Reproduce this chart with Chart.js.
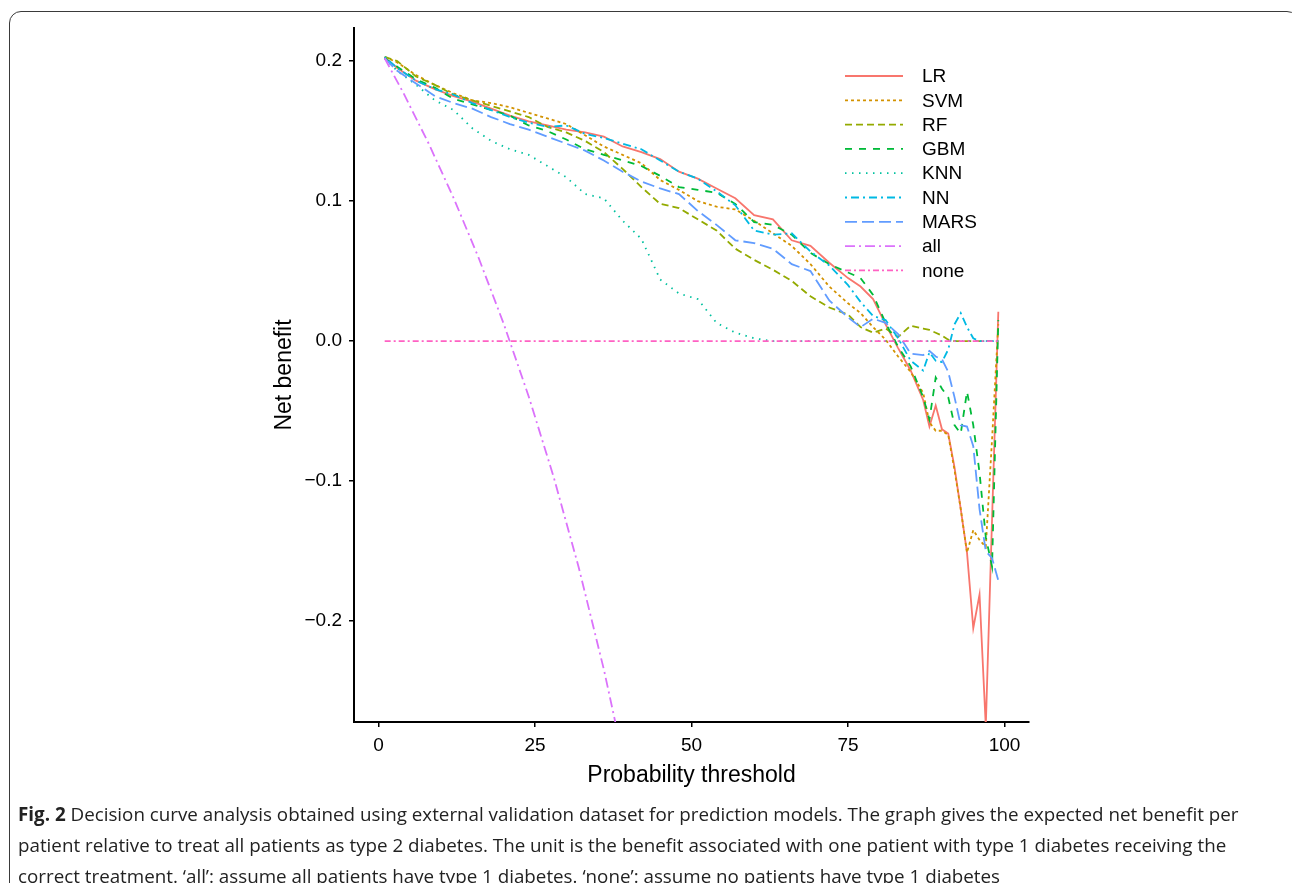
<!DOCTYPE html>
<html>
<head>
<meta charset="utf-8">
<script src="https://cdn.jsdelivr.net/npm/chart.js@4.4.1/dist/chart.umd.min.js"></script>
<style>
  html, body { margin: 0; padding: 0; background: #fff; }
  body { width: 1292px; height: 883px; position: relative; overflow: hidden; }
  #frame {
    position: absolute; left: 9px; top: 11px; width: 1290px; height: 1000px;
    border: 1.5px solid #3a3a3a; border-radius: 12px; box-sizing: border-box;
  }
  #chart { position: absolute; left: 0; top: 0; }
  #caption {
    position: absolute; left: 18px; top: 799px;
    font-family: "Open Sans", sans-serif; font-size: 18.8px; line-height: 31px;
    color: #222; white-space: nowrap; letter-spacing: 0;
  }
  #caption b { font-weight: 700; }
</style>
</head>
<body>
<div id="frame"></div>
<canvas id="chart" width="1292" height="800"></canvas>
<div id="caption">
  <b>Fig. 2</b> Decision curve analysis obtained using external validation dataset for prediction models. The graph gives the expected net benefit per<br>
  patient relative to treat all patients as type 2 diabetes. The unit is the benefit associated with one patient with type 1 diabetes receiving the<br>
  correct treatment. ‘all’: assume all patients have type 1 diabetes. ‘none’: assume no patients have type 1 diabetes
</div>
<script>
// thresholds (%) shared by the model curves
const thresholds = [1, 3, 6, 9, 12, 15, 18, 21, 24, 27, 30, 33, 36, 39, 42, 45, 48, 51, 54, 57, 60, 63, 66, 69, 72, 75,
  77, 79, 81, 83, 85, 87, 88, 89, 90, 91, 92, 93, 94, 95, 96, 97, 98, 99];

const lrValues = [0.2025, 0.195, 0.186, 0.180, 0.175, 0.171, 0.166, 0.161, 0.157, 0.154, 0.151, 0.149, 0.146, 0.139, 0.135, 0.130, 0.121, 0.116, 0.109, 0.102, 0.090, 0.087, 0.072, 0.068, 0.056, 0.045,
  0.039, 0.030, 0.012, -0.005, -0.021, -0.042, -0.061, -0.046, -0.063, -0.066, -0.090, -0.120, -0.151, -0.205, -0.181, -0.275, -0.127, 0.021];
const svmValues = [0.203, 0.199, 0.190, 0.183, 0.177, 0.172, 0.170, 0.167, 0.163, 0.159, 0.155, 0.147, 0.139, 0.133, 0.127, 0.115, 0.108, 0.100, 0.096, 0.094, 0.086, 0.077, 0.068, 0.055, 0.039, 0.027,
  0.020, 0.010, 0.001, -0.011, -0.022, -0.037, -0.058, -0.064, -0.064, -0.067, -0.092, -0.120, -0.151, -0.135, -0.142, -0.147, -0.070, 0.012];
const rfValues = [0.203, 0.200, 0.189, 0.183, 0.176, 0.172, 0.168, 0.164, 0.160, 0.153, 0.149, 0.143, 0.135, 0.123, 0.110, 0.098, 0.095, 0.087, 0.079, 0.066, 0.058, 0.051, 0.043, 0.032, 0.024, 0.019,
  0.010, 0.006, 0.009, 0.003, 0.011, 0.009, 0.008, 0.006, 0.004, 0.001, 0, 0, 0, 0, 0, 0, 0, 0];
const gbmValues = [0.202, 0.196, 0.187, 0.181, 0.173, 0.169, 0.165, 0.161, 0.154, 0.150, 0.144, 0.137, 0.133, 0.129, 0.125, 0.118, 0.110, 0.108, 0.106, 0.098, 0.085, 0.083, 0.076, 0.063, 0.055, 0.049,
  0.045, 0.033, 0.013, -0.004, -0.018, -0.040, -0.056, -0.026, -0.034, -0.040, -0.060, -0.066, -0.036, -0.060, -0.094, -0.140, -0.161, 0.015];
const knnValues = [0.202, 0.193, 0.183, 0.172, 0.165, 0.152, 0.143, 0.137, 0.133, 0.125, 0.117, 0.105, 0.102, 0.086, 0.073, 0.044, 0.034, 0.030, 0.013, 0.006, 0.002, 0, 0, 0, 0, 0,
  0, 0, 0, 0, 0, 0, 0, 0, 0, 0, 0, 0, 0, 0, 0, 0, 0, 0];
const nnValues = [0.203, 0.195, 0.186, 0.180, 0.176, 0.170, 0.165, 0.160, 0.156, 0.153, 0.154, 0.148, 0.145, 0.141, 0.137, 0.129, 0.121, 0.116, 0.107, 0.097, 0.079, 0.076, 0.077, 0.064, 0.054, 0.040,
  0.028, 0.018, 0.015, 0.002, -0.014, -0.021, -0.008, -0.014, -0.015, -0.006, 0.012, 0.020, 0.010, 0.002, 0, 0, 0, 0];
const marsValues = [0.202, 0.193, 0.184, 0.175, 0.170, 0.166, 0.160, 0.155, 0.151, 0.146, 0.141, 0.136, 0.129, 0.121, 0.114, 0.109, 0.105, 0.093, 0.083, 0.072, 0.070, 0.066, 0.055, 0.050, 0.029, 0.017,
  0.010, 0.016, 0.013, 0.005, -0.009, -0.010, -0.007, -0.011, -0.013, -0.022, -0.040, -0.060, -0.061, -0.075, -0.120, -0.150, -0.155, -0.171];

// treat-all and treat-none reference lines
const allThresholds = [1, 4, 8, 12, 16, 20, 24, 28, 32, 36, 40];
const allValues = [0.2020, 0.1771, 0.1413, 0.1023, 0.0595, 0.0125, -0.0395, -0.0972, -0.1618, -0.2344, -0.3167];
const noneThresholds = [1, 99];
const noneValues = [0, 0];

const xTicks = [0, 25, 50, 75, 100];
const yTicks = [-0.2, -0.1, 0, 0.1, 0.2];

const seriesNames = ['LR', 'SVM', 'RF', 'GBM', 'KNN', 'NN', 'MARS', 'all', 'none'];
const seriesColors = ['#F8766D', '#D39200', '#93AA00', '#00BA38', '#00C19F', '#00B9E3', '#619CFF', '#DB72FB', '#FF61C3'];
const seriesDash = [[], [3, 3], [7, 4], [7, 7], [1.5, 5.5], [2, 4, 8, 4], [12, 5], [10, 4, 2, 4], [6, 3, 2, 3]];

const xs = [thresholds, thresholds, thresholds, thresholds, thresholds, thresholds, thresholds, allThresholds, noneThresholds];
const ys = [lrValues, svmValues, rfValues, gbmValues, knnValues, nnValues, marsValues, allValues, noneValues];

const datasets = seriesNames.map((name, i) => ({
    label: name,
    data: xs[i].map((x, j) => ({ x: x, y: ys[i][j] })),
    borderColor: seriesColors[i],
    borderDash: seriesDash[i],
    borderWidth: 1.8,
    pointRadius: 0,
    tension: 0,
    fill: false,
    order: seriesNames.length - i
}));

// legend drawn inside the plot, top right, like ggplot's
const insideLegend = {
    id: 'insideLegend',
    afterDatasetsDraw(chart) {
        const { ctx, chartArea } = chart;
        const x0 = chartArea.left + 491, x1 = chartArea.left + 549, tx = chartArea.left + 568;
        ctx.save();
        ctx.font = '19px "Liberation Sans", Arial, sans-serif';
        ctx.textBaseline = 'middle';
        seriesNames.forEach((name, i) => {
            const y = chartArea.top + 48 + i * 24.3;
            ctx.strokeStyle = seriesColors[i];
            ctx.lineWidth = 1.8;
            ctx.setLineDash(seriesDash[i]);
            ctx.beginPath();
            ctx.moveTo(x0, y);
            ctx.lineTo(x1, y);
            ctx.stroke();
            ctx.setLineDash([]);
            ctx.fillStyle = '#000';
            ctx.fillText(name, tx, y + 1);
        });
        ctx.restore();
    }
};

const tickFont = { family: '"Liberation Sans", Arial, sans-serif', size: 19 };
const titleFont = { family: '"Liberation Sans", Arial, sans-serif', size: 23 };

new Chart(document.getElementById('chart'), {
    type: 'line',
    data: { datasets: datasets },
    options: {
        responsive: false,
        animation: false,
        layout: { padding: { left: 271, right: 263, top: 28, bottom: 11 } },
        plugins: { legend: { display: false }, tooltip: { enabled: false } },
        scales: {
            x: {
                type: 'linear',
                min: -3.9, max: 103.9,
                afterBuildTicks: (s) => { s.ticks = xTicks.map(v => ({ value: v })); },
                afterFit: (s) => { s.height = 67; },
                grid: { drawOnChartArea: false, drawTicks: true, tickLength: 5, color: '#000', lineWidth: 1.5 },
                border: { display: true, color: '#000', width: 2 },
                ticks: { color: '#000', font: tickFont, padding: 7, maxRotation: 0 },
                title: { display: true, text: 'Probability threshold', color: '#000', font: titleFont, padding: 0 }
            },
            y: {
                type: 'linear',
                min: -0.272, max: 0.2236,
                afterBuildTicks: (s) => { s.ticks = yTicks.map(v => ({ value: v })); },
                afterFit: (s) => { s.width = 83; },
                grid: { drawOnChartArea: false, drawTicks: true, tickLength: 5, color: '#000', lineWidth: 1.5 },
                border: { display: true, color: '#000', width: 2 },
                ticks: {
                    color: '#000', font: tickFont, padding: 7,
                    callback: (v) => v.toFixed(1).replace('-', '\u2212')
                },
                title: { display: true, text: 'Net benefit', color: '#000', font: titleFont, padding: 0 }
            }
        }
    },
    plugins: [insideLegend]
});
</script>
</body>
</html>
